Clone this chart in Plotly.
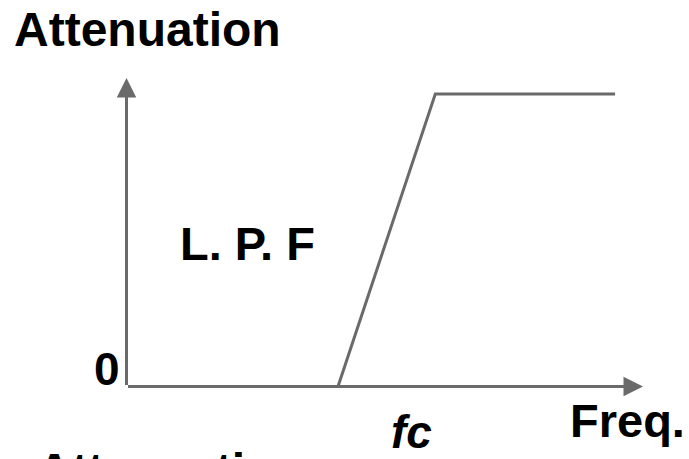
import plotly.graph_objects as go

# ---- data (normalised units: fc = 1 on frequency, pass level = 0, stop level = 1) ----
freq = [1.0, 1.46, 2.31]          # fc, end of transition, end of drawn stop band
atten = [0.0, 1.0, 1.0]           # attenuation at those frequencies
x_axis_end = 2.442                # arrow tip of frequency axis
y_axis_end = 1.055                # arrow tip of attenuation axis
labels = {"title": "Attenuation", "zero": "0", "filter": "L. P. F",
          "fc": "fc", "freq": "Freq.", "bottom": "Attenuation"}

W, H = 689, 459
ox, oy = 126.5, 386.5             # pixel position of origin
sx, sy = 211.5, 292.5             # pixels per unit

xr = [-ox / sx, (W - ox) / sx]
yr = [(oy - H) / sy, oy / sy]

line_col = "#6a6a6a"
fam = "Liberation Sans, Arial, sans-serif"

fig = go.Figure()
fig.add_trace(go.Scatter(x=freq, y=atten, mode="lines",
                         line=dict(color=line_col, width=3), hoverinfo="skip"))

ann = []
# axes as arrows
ann.append(dict(x=x_axis_end, y=0, ax=0, ay=0, xref="x", yref="y", axref="x", ayref="y",
                showarrow=True, arrowhead=2, arrowsize=1.3, arrowwidth=3,
                arrowcolor=line_col, text=""))
ann.append(dict(x=0, y=y_axis_end, ax=0, ay=0, xref="x", yref="y", axref="x", ayref="y",
                showarrow=True, arrowhead=2, arrowsize=1.3, arrowwidth=3,
                arrowcolor=line_col, text=""))

def txt(t, px, py, size=47, xanchor="center", italic=False):
    s = "<b>%s</b>" % t
    if italic:
        s = "<i>%s</i>" % s
    ann.append(dict(text=s, x=px / W, y=1 - py / H, xref="paper", yref="paper",
                    xanchor=xanchor, yanchor="middle", showarrow=False,
                    font=dict(family=fam, size=size, color="black")))

txt(labels["title"], 12, 30, size=48, xanchor="left")
txt(labels["zero"], 107, 369, size=46)
txt(labels["filter"], 247.5, 243, size=47)
txt(labels["fc"], 411.5, 432, size=46, italic=True)
txt(labels["freq"], 627, 420, size=47)
txt(labels["bottom"], 35, 471, size=48, xanchor="left")

fig.update_layout(
    width=W, height=H, margin=dict(l=0, r=0, t=0, b=0),
    paper_bgcolor="white", plot_bgcolor="white", showlegend=False,
    xaxis=dict(range=xr, visible=False, fixedrange=True),
    yaxis=dict(range=yr, visible=False, fixedrange=True),
    annotations=ann,
)
fig.write_html("out.html", config={"displayModeBar": False},
               post_script="document.body.style.margin='0';document.body.style.overflow='hidden';")
